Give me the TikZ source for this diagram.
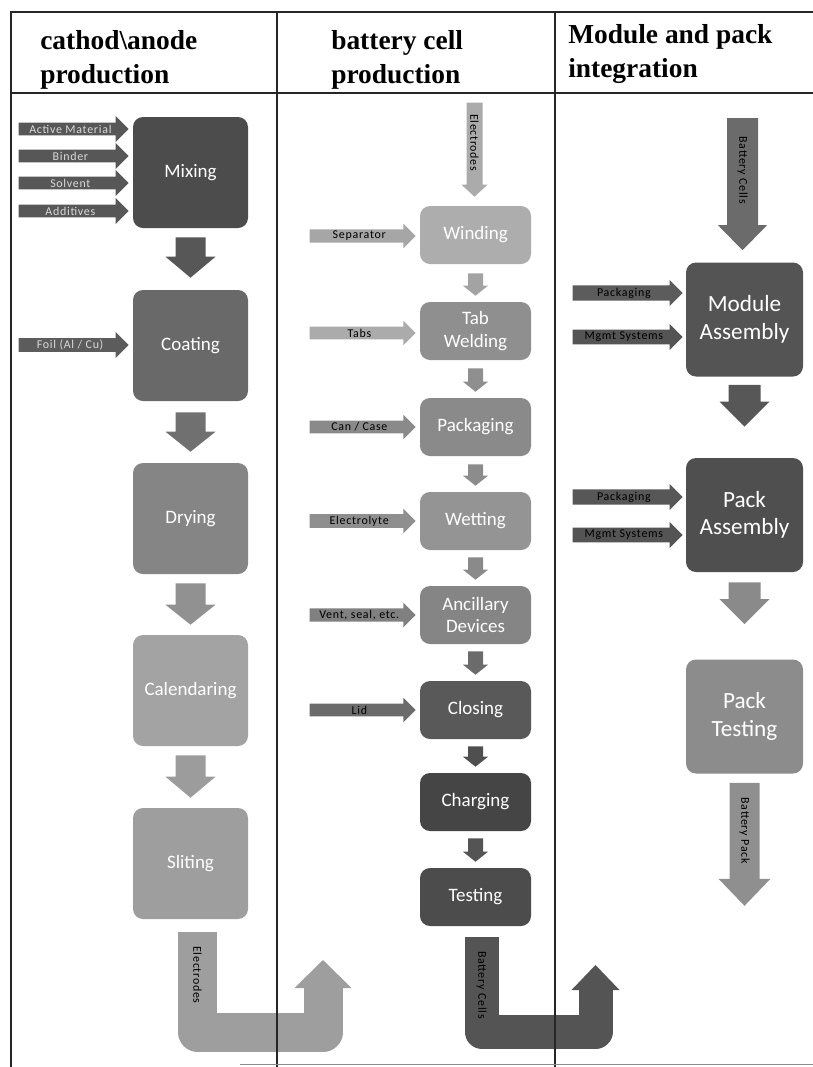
\documentclass[tikz,border=0pt]{standalone}
\usepackage{fontspec}
\setmainfont{Liberation Serif}
\newfontfamily\boxfont{Carlito}
\newfontfamily\feedfont[LetterSpace=6]{Carlito}
\usepackage{tikz}
\usetikzlibrary{positioning,calc,shapes.arrows}
\def\pxl{*0.025cm}
\tikzstyle{rule} = [line width=1.6pt, black!85]
\tikzstyle{head} = [anchor=north west, align=left, inner sep=0pt, font=\fontsize{19.5}{24}\selectfont\bfseries]
\tikzstyle{stage} = [rectangle, rounded corners=0.25cm, text=white, align=center, inner sep=1pt, font=\boxfont\fontsize{13.5}{16}\selectfont]
\tikzstyle{bigstage} = [stage, minimum width=115\pxl, minimum height=111\pxl]
\tikzstyle{cellstage} = [stage, minimum width=111\pxl, minimum height=58\pxl]
\tikzstyle{packstage} = [stage, minimum width=117\pxl, minimum height=114\pxl, font=\boxfont\fontsize{16.5}{19.5}\selectfont]
\tikzstyle{feed} = [single arrow, single arrow head extend=6\pxl, minimum width=26\pxl, minimum height=110\pxl, inner sep=1pt, anchor=tip, text=black, font=\feedfont\fontsize{8.5}{9}\selectfont]
\tikzstyle{cellfeed} = [feed, minimum height=106\pxl, minimum width=24.5\pxl, single arrow head extend=5.5\pxl]
\tikzstyle{packfeed} = [feed, minimum width=26\pxl, single arrow head extend=5\pxl]
\tikzstyle{vlabel} = [rotate=-90, inner sep=0pt, font=\feedfont\fontsize{8.5}{9}\selectfont]
\tikzstyle{ubody} = [line join=round]

% block arrow pointing down: tail, tip, colour, shaft half, head half, head length
\newcommand{\blockarrow}[6]{%
  \fill[#3] ($#1+(-#4,0)$) -- ($#1+(#4,0)$) -- ($#2+(#4,-#6)$) -- ($#2+(#5,-#6)$)
    -- ($#2$) -- ($#2+(-#5,-#6)$) -- ($#2+(-#4,-#6)$) -- cycle;}

\begin{document}
\begin{tikzpicture}[x=0.025cm, y=-0.025cm]
        \useasboundingbox (0,0) rectangle (813,1067);
        % cathode / anode
        \node[bigstage, fill=black!70] (mix) at (190.5,172.5) {Mixing};
        \node[bigstage, fill=black!59] (coat) at (190.5,345.5) {Coating};
        \node[bigstage, fill=black!48] (dry) at (190.5,518.5) {Drying};
        \node[bigstage, fill=black!36] (cal) at (190.5,690.5) {Calendaring};
        \node[bigstage, fill=black!38] (slit) at (190.5,863.5) {Sliting};
        \node[feed, fill=black!66, text=black!15] (actm) at (129,129) {Active Material};
        \node[feed, fill=black!66, text=black!15] (bind) at (129,156) {Binder};
        \node[feed, fill=black!66, text=black!15] (solv) at (129,183) {Solvent};
        \node[feed, fill=black!66, text=black!15] (addv) at (129,211) {Additives};
        \node[feed, fill=black!64, text=black!15] (foil) at (129,345) {Foil (Al / Cu)};
        \blockarrow{(mix.south)+(0,9)}{(coat.north)+(0,-12)}{black!66}{15}{25}{21}
        \blockarrow{(coat.south)+(0,11)}{(dry.north)+(0,-11)}{black!56}{15}{25}{20}
        \blockarrow{(dry.south)+(0,9)}{(cal.north)+(0,-10)}{black!43}{15}{25}{20}
        \blockarrow{(cal.south)+(0,9)}{(slit.north)+(0,-10)}{black!39}{15}{25}{21}
        \coordinate (eltip) at (323,960);
        \coordinate (elbase) at (323,988);
        \draw[ubody, line width=39\pxl, black!38] ($(slit.south)+(7,13)$) |- ($(elbase)+(0,44)$) -- ($(elbase)+(0,-1)$);
        \fill[black!38] ($(elbase)+(-28.5,0)$) -- (eltip) -- ($(elbase)+(28.5,0)$) -- cycle;
        \node[vlabel] (elout) at (197.5,975) {Electrodes};

        % battery cell
        \node[cellstage, fill=black!32] (wind) at (475.5,235) {Winding};
        \node[cellstage, fill=black!44] (tab) at (475.5,331) {Tab\\Welding};
        \node[cellstage, fill=black!46] (pkg) at (475.5,427) {Packaging};
        \node[cellstage, fill=black!42] (wet) at (475.5,521) {Wetting};
        \node[cellstage, fill=black!48] (anc) at (475.5,615) {Ancillary\\Devices};
        \node[cellstage, fill=black!65] (close) at (475.5,710) {Closing};
        \node[cellstage, fill=black!73] (chg) at (475.5,802) {Charging};
        \node[cellstage, fill=black!70] (test) at (475.5,897) {Testing};
        \coordinate (elin) at ($(wind.north)+(-1,-103)$);
        \blockarrow{(elin)}{(wind.north)+(-1,-9)}{black!33}{8}{13}{12}
        \node[vlabel] (elinl) at ($(elin)+(0,40)$) {Electrodes};
        \node[cellfeed, fill=black!35] (sep) at (416,236) {Separator};
        \node[cellfeed, fill=black!33] (tabs) at (416,333) {Tabs};
        \node[cellfeed, fill=black!46] (case) at (416,427) {Can / Case};
        \node[cellfeed, fill=black!44] (elyt) at (416,521) {Electrolyte};
        \node[cellfeed, fill=black!50] (vent) at (416,615) {Vent, seal, etc.};
        \node[cellfeed, fill=black!58] (lid) at (416,710) {Lid};
        \blockarrow{(wind.south)+(0,9)}{(tab.north)+(0,-6)}{black!36}{7.5}{12.5}{10}
        \blockarrow{(tab.south)+(0,8)}{(pkg.north)+(0,-6)}{black!44}{7.5}{12.5}{10}
        \blockarrow{(pkg.south)+(0,8)}{(wet.north)+(0,-6)}{black!45}{7.5}{12.5}{10}
        \blockarrow{(wet.south)+(0,7)}{(anc.north)+(0,-6)}{black!46}{7.5}{12.5}{10}
        \blockarrow{(anc.south)+(0,7)}{(close.north)+(0,-6)}{black!58}{7.5}{12.5}{10}
        \blockarrow{(close.south)+(0,7)}{(chg.north)+(0,-6)}{black!69}{7.5}{12.5}{10}
        \blockarrow{(chg.south)+(0,7)}{(test.north)+(0,-6)}{black!67}{7.5}{12.5}{10}
        \coordinate (cltip) at (595.5,965);
        \coordinate (clbase) at (595.5,990);
        \draw[ubody, line width=34\pxl, black!67] ($(test.south)+(6,11)$) |- ($(clbase)+(0,41.5)$) -- ($(clbase)+(0,-1)$);
        \fill[black!67] ($(clbase)+(-24,0)$) -- (cltip) -- ($(clbase)+(24,0)$) -- cycle;
        \node[vlabel] (clout) at (481.5,985) {Battery Cells};

        % module and pack
        \node[packstage, fill=black!67] (mod) at (744.5,319.5) {Module\\Assembly};
        \node[packstage, fill=black!69] (pack) at (744.5,515) {Pack\\Assembly};
        \node[packstage, fill=black!45] (ptest) at (744.5,716.5) {Pack\\Testing};
        \node[packfeed, fill=black!64] (pkga) at (683,293) {Packaging};
        \node[packfeed, fill=black!67] (mgta) at (683,337) {Mgmt Systems};
        \node[packfeed, fill=black!66] (pkgb) at (683,497) {Packaging};
        \node[packfeed, fill=black!67] (mgtb) at (683,535) {Mgmt Systems};
        \coordinate (clin) at ($(mod.north)+(-2,-144)$);
        \blockarrow{(clin)}{(mod.north)+(-2,-12)}{black!58}{15.5}{24.5}{25}
        \node[vlabel] (clinl) at ($(clin)+(0,52)$) {Battery Cells};
        \blockarrow{(mod.south)+(0,8)}{(pack.north)+(0,-31)}{black!66}{16}{25}{25}
        \blockarrow{(pack.south)+(0,10)}{(ptest.north)+(0,-35)}{black!46}{16}{25}{25}
        \coordinate (packout) at ($(ptest.south)+(0,132)$);
        \blockarrow{(ptest.south)+(0,9)}{(packout)}{black!44}{15}{26}{27}
        \node[vlabel] (packl) at ($(ptest.south)+(0,57)$) {Battery Pack};

        % table
        \draw[rule] (10,12) -- (813,12);
        \draw[rule] (10,93) -- (813,93);
        \draw[rule] (11,12) -- (11,1067);
        \draw[rule] (277,12) -- (277,1067);
        \draw[rule] (555,12) -- (555,1067);
        \draw[black!45, line width=0.6pt] (240,1064) -- (813,1064);
        \node[head] (hcat) at (40,30) {cathod\textbackslash anode\\production};
        \node[head] (hcell) at (331,30) {battery cell\\production};
        \node[head] (hmod) at (568,24) {Module and pack\\integration};
\end{tikzpicture}
\end{document}
